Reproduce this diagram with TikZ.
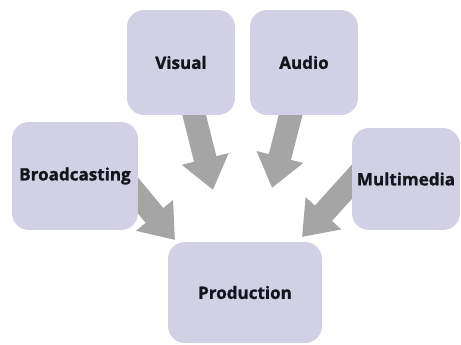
\documentclass[tikz,border=0pt]{standalone}
\usepackage{fontspec}
\setmainfont{Open Sans}[BoldFeatures={FakeBold=1.2}]
\usetikzlibrary{arrows.meta,backgrounds,calc}

\definecolor{lila}{RGB}{210,208,229}
\definecolor{gris}{RGB}{165,165,165}
\definecolor{tinta}{RGB}{20,20,28}

\begin{document}
\begin{tikzpicture}[x=0.02cm, y=-0.02cm,
  caja/.style={fill=lila, rounded corners=0.34cm, inner sep=0pt, text=tinta,
    font=\bfseries\fontsize{9.7}{11}\selectfont},
  flecha/.style={draw=gris, line width=0.46cm,
    -{Triangle[width=0.92cm,length=0.64cm]}}]

  \useasboundingbox (0,0) rectangle (461,345);

  % Cajas de arriba
  \node[caja, minimum width=2.16cm, minimum height=2.1cm] (visual) at (181,62.5) {Visual};
  \node[caja, minimum width=2.16cm, minimum height=2.1cm] (audio) at (304,62.5) {Audio};

  % Cajas de los lados
  \node[caja, minimum width=2.52cm, minimum height=2.16cm] (broad) at (75,176) {Broadcasting};
  \node[caja, minimum width=2.16cm, minimum height=2.04cm] (multi) at (406,179) {Multimedia};

  % Caja de abajo
  \node[caja, minimum width=3.08cm, minimum height=2.02cm] (prod) at (245,292.5) {Production};

  % Puntas de las flechas
  \coordinate (tipV) at (213,190);
  \coordinate (tipA) at (272,188);
  \coordinate (tipB) at (175,240);
  \coordinate (tipM) at (302,237);

  \begin{scope}[on background layer]
    \draw[flecha] (visual.center) -- (tipV);
    \draw[flecha] (audio.center) -- (tipA);
    \draw[flecha, shorten <=-0.4cm] ($(broad.east)+(0,20)$) -- (tipB);
    \draw[flecha, shorten <=-0.4cm] ($(multi.west)+(0,3)$) -- (tipM);
  \end{scope}

\end{tikzpicture}
\end{document}
